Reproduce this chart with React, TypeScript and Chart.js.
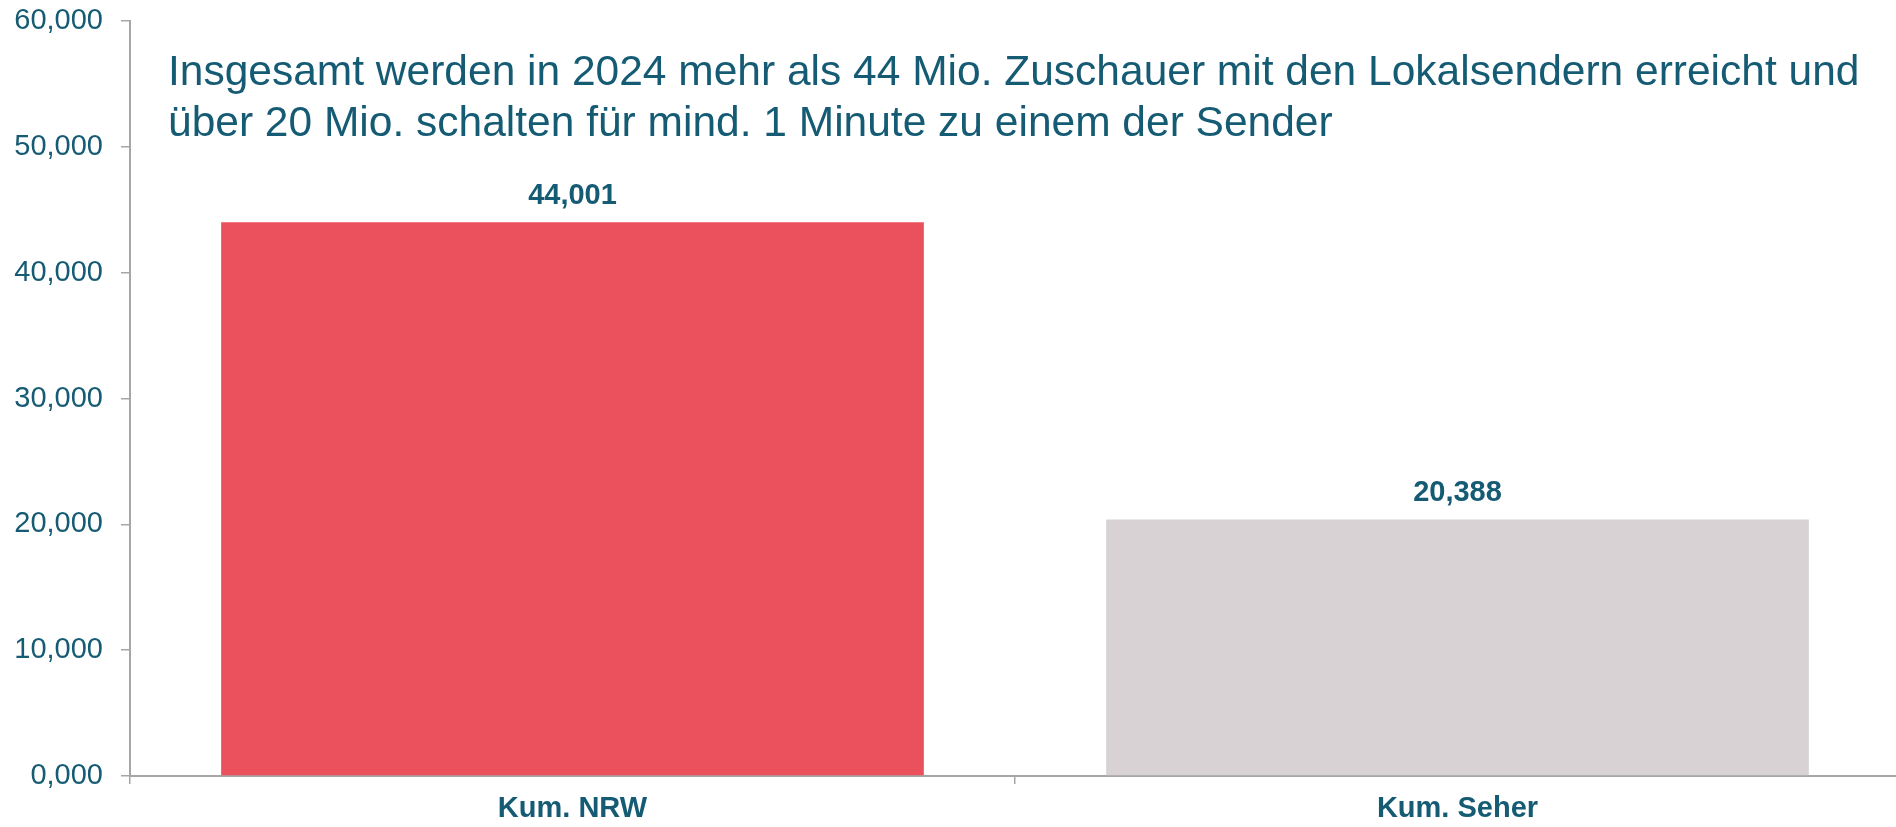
import React, { useEffect, useRef } from "react";
import { Chart, registerables } from "chart.js";

Chart.register(...registerables);

const categories = ["Kum. NRW", "Kum. Seher"];
const values = [44.001, 20.388];
const barColors = ["#EB515C", "#D8D2D4"];
const yMin = 0;
const yMax = 60;
const yStep = 10;
const titleLines = [
  "Insgesamt werden in 2024 mehr als 44 Mio. Zuschauer mit den Lokalsendern erreicht und",
  "über 20 Mio. schalten für mind. 1 Minute zu einem der Sender",
];

const TEAL = "#155B73";
const AXIS = "#A6A6A6";
const FONT = "'Liberation Sans', Arial, Helvetica, sans-serif";

const fmt = (v: number) => v.toFixed(3).replace(".", ",");

const valueLabelPlugin = {
  id: "valueLabels",
  afterDatasetsDraw(chart: any) {
    const ctx = chart.ctx;
    const meta = chart.getDatasetMeta(0);
    ctx.save();
    ctx.fillStyle = TEAL;
    ctx.font = `bold 29px ${FONT}`;
    ctx.textAlign = "center";
    ctx.textBaseline = "alphabetic";
    meta.data.forEach((el: any, i: number) => {
      ctx.fillText(fmt(chart.data.datasets[0].data[i]), el.x, el.y - 18);
    });
    ctx.restore();
  },
};

export default function App() {
  const ref = useRef<HTMLCanvasElement | null>(null);

  useEffect(() => {
    if (!ref.current) return;
    const chart = new Chart(ref.current, {
      type: "bar",
      data: {
        labels: categories,
        datasets: [
          {
            data: values,
            backgroundColor: barColors,
            borderWidth: 0,
            barPercentage: 0.794,
            categoryPercentage: 1,
          },
        ],
      },
      plugins: [valueLabelPlugin],
      options: {
        animation: false,
        responsive: false,
        maintainAspectRatio: false,
        layout: { padding: { top: 21, right: 0, left: 0, bottom: 0 } },
        plugins: {
          legend: { display: false },
          tooltip: { enabled: false },
          title: { display: false },
        },
        scales: {
          x: {
            offset: true,
            grid: {
              offset: true,
              drawOnChartArea: false,
              drawTicks: true,
              tickLength: 8,
              color: AXIS,
              lineWidth: 1.5,
            },
            border: { color: AXIS, width: 2 },
            ticks: {
              color: TEAL,
              font: { family: FONT, size: 29, weight: "bold" },
              padding: 8,
            },
            afterFit: (scale: any) => {
              scale.height = 51;
              scale.paddingLeft = 0;
              scale.paddingRight = 0;
            },
          },
          y: {
            min: yMin,
            max: yMax,
            grid: {
              drawOnChartArea: false,
              drawTicks: true,
              tickLength: 9,
              color: AXIS,
              lineWidth: 1.5,
            },
            border: { color: AXIS, width: 2 },
            ticks: {
              stepSize: yStep,
              color: TEAL,
              font: { family: FONT, size: 29 },
              padding: 18,
              callback: (v: any) => fmt(Number(v)),
            },
            afterFit: (scale: any) => {
              scale.width = 130;
              scale.paddingTop = 0;
              scale.paddingBottom = 0;
            },
          },
        },
      },
    });
    return () => chart.destroy();
  }, []);

  return (
    <div
      style={{
        position: "absolute",
        left: 0,
        top: 0,
        width: 1896,
        height: 827,
        overflow: "hidden",
        background: "#fff",
      }}
    >
      <canvas ref={ref} width={1900} height={827} style={{ display: "block" }} />
      <div
        style={{
          position: "absolute",
          left: 168,
          top: 45,
          fontFamily: FONT,
          fontSize: 42.5,
          lineHeight: "51px",
          color: TEAL,
          whiteSpace: "pre",
        }}
      >
        {titleLines.map((l, i) => (
          <div key={i}>{l}</div>
        ))}
      </div>
    </div>
  );
}
